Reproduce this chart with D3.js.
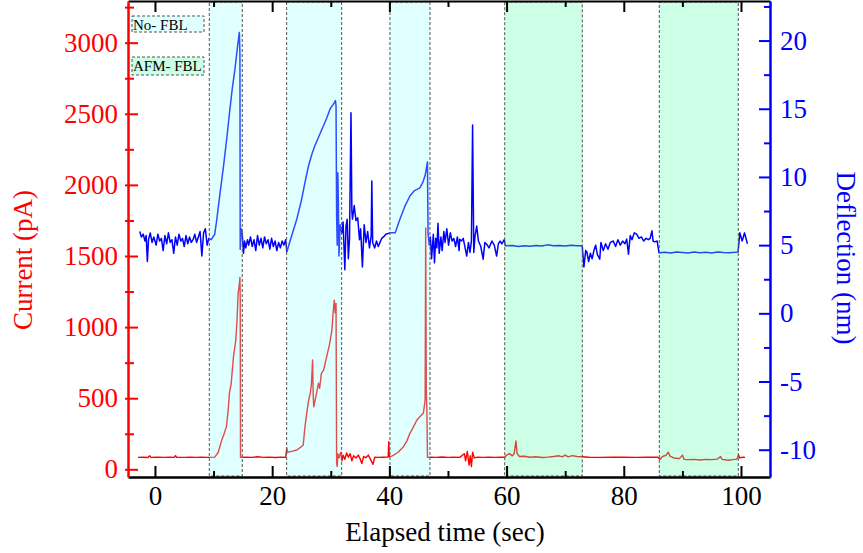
<!DOCTYPE html>
<html>
<head>
<meta charset="utf-8">
<script src="https://cdn.jsdelivr.net/npm/d3@7"></script>
<style>
  html, body { margin: 0; padding: 0; background: #fff; }
  svg { display: block; }
  text { font-family: "Liberation Serif", "DejaVu Serif", serif; }
</style>
</head>
<body>
<svg id="chart" width="863" height="553"></svg>
<script>
// ---------------- DATA ----------------
const xTicks = [0, 20, 40, 60, 80, 100];
const currentTicks = [0, 500, 1000, 1500, 2000, 2500, 3000];
const deflectionTicks = [-10, -5, 0, 5, 10, 15, 20];

// shaded windows [start, end] in seconds
const noFblWindows = [[9.27, 14.9], [22.47, 31.86], [40.1, 46.93]];
const afmFblWindows = [[59.68, 72.92], [86.06, 99.54]];
const legendLabels = ["No- FBL", "AFM- FBL"];

// Current (pA) vs time (s)
const currentTrace = [
[-2.9,84],[-2,85],[-1.2,83],[-0.9,95],[-0.7,84],[0.5,85],[1.5,84],[2.5,86],[3.3,84],[3.5,96],[3.7,85],[5,84],[6,86],[7,84],[8,85],[9,84],[10.2,86],
[10.8,120],[11.4,207],[11.8,250],[12.2,300],[12.5,420],[12.7,534],[13.0,600],[13.4,792],[13.6,850],[13.8,909],[14.0,1050],[14.2,1238],[14.4,1300],[14.5,1350],[14.55,1200],[14.6,84],
[15.5,86],[16.5,84],[17.5,88],[18.5,84],[19.5,86],[20.5,83],[21.5,86],[22.3,84],[22.5,150],[22.6,120],[23.5,128],[24.2,136],[25,160],[25.3,171],[25.6,300],[25.9,394],[26.2,480],[26.5,534],[26.7,600],[26.9,769],[27.0,520],[27.1,440],[27.5,520],[27.9,605],[28.1,570],[28.4,675],[28.8,700],[29.3,792],[29.8,880],[30.2,980],[30.4,1100],[30.6,1190],[30.75,1100],[30.9,1167],[31.0,40],[31.1,20],[31.2,110],[31.4,80],[31.7,120],[31.9,60],[32.1,100],[32.4,70],[32.7,115],[33.0,85],[33.3,110],[33.6,60],[33.9,95],[34.3,80],[34.7,100],[35.0,75],[35.3,40],[35.6,90],[36.0,82],[36.4,100],[36.8,70],[37.2,35],[37.5,85],[38,84],[39,85],[39.8,86],[39.9,194],[40.0,88],[40.5,95],[41.5,120],[42.4,159],[43,200],[43.5,253],[44.0,290],[44.7,347],[45.2,370],[45.8,394],[46.1,487],[46.2,1697],[46.3,560],[46.4,420],[46.5,84],
[47,86],[48,84],[49,87],[50,84],[51,86],[52,84],[52.8,110],[53,60],[53.3,125],[53.6,30],[53.8,95],[54.0,20],[54.2,120],[54.5,80],[55,86],[56,84],[57,85],[58,84],[59,86],[59.7,85],[60.0,100],[60.5,110],[61.0,95],[61.3,110],[61.6,199],[61.8,110],[62.2,90],[63,92],[64,85],[65,88],[66,83],[67,86],[68,90],[69,95],[69.5,88],[70,100],[70.5,88],[71.2,96],[72,90],[72.9,88],[74,85],[76,84],[78,86],[80,85],[82,84],[84,86],[85.8,85],[86.2,70],[86.6,90],[87.2,98],[87.6,120],[87.9,92],[88.5,80],[89.5,75],[90,100],[90.3,70],[91,68],[92,70],[93,66],[94,70],[95,68],[96,72],[96.5,90],[96.8,70],[97.5,66],[98,64],[98.5,68],[99.3,72],[99.6,100],[99.8,80],[100.3,85],[100.7,84]
];

// Deflection (nm) vs time (s)
const deflectionTrace = [
[-2.6,6.0],[-2.3,5.6],[-2.0,5.8],[-1.7,5.3],[-1.5,5.7],[-1.3,3.8],[-1.1,5.4],[-0.8,5.9],[-0.5,5.2],[-0.2,5.6],[0.2,5.0],[0.5,5.8],[0.8,5.3],[1.1,5.5],[1.4,4.6],[1.7,5.7],[2.0,5.1],[2.3,5.9],[2.6,5.2],[2.9,5.4],[3.2,4.4],[3.5,5.6],[3.8,5.0],[4.1,5.8],[4.4,5.3],[4.7,5.5],[5.0,4.9],[5.3,5.7],[5.6,5.1],[5.9,5.6],[6.2,5.2],[6.5,5.4],[6.8,5.8],[7.1,5.2],[7.4,5.6],[7.7,6.0],[8.0,4.2],[8.3,5.9],[8.6,6.2],[8.9,5.0],[9.2,5.5],[9.6,5.4],[10.2,5.8],[10.5,6.7],[11.1,8.8],[11.7,10.8],[12.3,13.0],[12.8,15.0],[13.2,16.5],[13.65,17.9],[14.1,19.6],[14.4,20.6],[14.5,19.0],[14.55,4.7],[14.7,6.2],[14.9,5.8],[15.1,4.4],[15.3,5.3],[15.5,4.8],[15.8,5.4],[16.0,5.0],[16.3,5.6],[16.6,4.9],[16.9,5.4],[17.2,4.6],[17.5,5.7],[17.8,5.0],[18.1,5.5],[18.4,4.8],[18.7,5.6],[19.0,5.1],[19.3,5.4],[19.6,4.7],[19.9,5.5],[20.2,4.9],[20.5,5.3],[20.8,4.6],[21.1,5.2],[21.4,4.8],[21.7,5.3],[22.0,5.0],[22.3,5.4],[22.5,4.5],
[23.2,5.5],[24.2,6.9],[25.0,8.3],[25.6,9.6],[26.2,10.8],[26.8,11.7],[27.3,12.3],[28.0,13.0],[28.7,13.7],[29.3,14.3],[29.9,15.0],[30.4,15.3],[30.8,15.6],[30.9,15.2],[31.0,7.1],[31.1,5.0],[31.2,10.3],[31.3,8.0],[31.4,4.2],[31.6,6.5],[31.9,5.9],[32.1,6.7],[32.4,3.2],[32.6,6.4],[32.8,6.9],[33.0,4.0],[33.2,5.5],[33.45,14.7],[33.6,7.5],[33.7,6.9],[34.0,7.9],[34.3,6.8],[34.6,7.0],[34.9,5.4],[35.1,6.2],[35.4,3.4],[35.7,6.5],[36.0,5.2],[36.3,6.0],[36.6,4.8],[36.9,5.7],[37.0,9.7],[37.15,5.2],[37.5,4.8],[37.8,5.3],[38.1,4.9],[38.4,5.2],[38.7,5.5],[39.0,5.6],[39.4,5.8],[40.1,5.9],
[41.0,5.9],[41.8,6.9],[42.6,7.8],[43.5,8.6],[44.3,9.0],[45.2,9.2],[45.7,9.6],[46.1,10.1],[46.5,11.1],[46.6,5.9],[46.8,5.0],[47.0,5.6],[47.2,4.0],[47.5,5.8],[47.7,3.7],[47.9,5.5],[48.1,4.8],[48.3,6.6],[48.5,4.4],[48.8,5.6],[49.0,4.6],[49.3,6.0],[49.5,5.2],[49.8,6.2],[50.1,5.0],[50.4,5.9],[50.7,5.3],[51.0,5.5],[51.3,4.9],[51.6,5.6],[51.9,4.6],[52.0,5.44],[52.3,5.3],[52.6,5.5],[53.2,4.2],[53.5,5.2],[53.75,4.46],[54.0,5.3],[54.2,13.8],[54.4,4.46],[54.6,5.6],[54.9,6.4],[55.2,5.3],[55.6,4.9],[56.0,3.97],[56.3,5.2],[56.6,5.07],[57.0,4.8],[57.5,5.3],[57.9,5.0],[58.3,4.2],[58.6,5.1],[58.9,5.3],[59.2,5.1],[59.6,5.4],
[59.8,4.95],[61,4.98],[62,4.9],[63,4.96],[64,4.92],[65,4.97],[66,4.93],[67,5.02],[68,4.95],[69,4.97],[70,4.93],[71,4.99],[72,4.95],[72.9,4.96],
[73.2,3.4],[73.5,4.6],[73.7,4.5],[74.0,3.8],[74.3,4.4],[74.6,4.0],[74.9,4.6],[75.2,5.0],[75.5,4.3],[75.9,3.97],[76.1,5.2],[76.5,4.6],[76.9,5.1],[77.3,4.7],[77.7,5.2],[78.2,5.3],[78.6,4.9],[79.0,5.4],[79.4,5.0],[79.8,5.3],[80.2,5.1],[80.5,5.44],[80.8,4.34],[81.1,5.7],[81.4,5.4],[81.8,5.9],[82.2,5.8],[82.6,5.5],[83.0,5.6],[83.4,5.3],[83.8,5.5],[84.2,5.4],[84.5,5.5],[84.8,6.05],[85.0,5.3],[85.3,5.24],[85.7,5.3],[86.0,4.45],
[86.2,4.45],[87,4.48],[88,4.43],[89,4.5],[90,4.46],[91,4.42],[92,4.49],[93,4.45],[94,4.47],[95,4.43],[96,4.5],[97,4.46],[98,4.44],[99,4.47],[99.5,4.5],[99.8,5.9],[100.2,5.3],[100.6,5.9],[101.1,5.1]
];

// ---------------- CHART ----------------
const FONT = "'Liberation Serif', 'DejaVu Serif', serif";
const svg = d3.select("#chart");
const L = 128, R = 770, T = 1, B = 477;

const x = d3.scaleLinear().domain([-4.6, 104.95]).range([L, R]);
const yC = d3.scaleLinear().domain([-54, 3293]).range([B, T]);
const yD = d3.scaleLinear().domain([-12, 22.9]).range([B, T]);

// data lines
const lineC = d3.line().x(d => x(d[0])).y(d => yC(d[1]));
const lineD = d3.line().x(d => x(d[0])).y(d => yD(d[1]));

svg.append("path").datum(currentTrace).attr("d", lineC)
  .attr("fill", "none").attr("stroke", "#ff0000").attr("stroke-width", 1.4).attr("stroke-linejoin", "round");
svg.append("path").datum(deflectionTrace).attr("d", lineD)
  .attr("fill", "none").attr("stroke", "#0000ff").attr("stroke-width", 1.5).attr("stroke-linejoin", "round");

// shaded windows drawn over the data (semi-transparent)
function windows(data, fill) {
  svg.append("g").selectAll("rect").data(data).join("rect")
    .attr("x", d => x(d[0])).attr("y", 2)
    .attr("width", d => x(d[1]) - x(d[0])).attr("height", B - 3)
    .attr("fill", fill).attr("fill-opacity", 0.3)
    .attr("stroke", "#555").attr("stroke-width", 1).attr("stroke-dasharray", "3,2");
}
windows(noFblWindows, "rgb(152,255,255)");
windows(afmFblWindows, "rgb(85,255,168)");

// legend
const legFills = ["rgb(224,255,255)", "rgb(204,255,229)"];
const legY = [16, 57], legH = [16, 18], legBase = [30, 71];
legendLabels.forEach((lab, i) => {
  svg.append("rect").attr("x", 132).attr("y", legY[i]).attr("width", 72).attr("height", legH[i])
    .attr("fill", legFills[i]).attr("stroke", "#555").attr("stroke-dasharray", "3,2");
  svg.append("text").attr("x", 133).attr("y", legBase[i]).attr("font-size", 15)
    .style("font-family", FONT).attr("fill", "#000").text(lab);
});

// ---- axes ----
const fmt = d => String(d);
function styleAxis(g, color, width) {
  g.attr("font-family", null).attr("font-size", null);
  g.select(".domain").attr("stroke", color).attr("stroke-width", width);
  g.selectAll(".tick line").attr("stroke", color).attr("stroke-width", 2);
  g.selectAll(".tick text").attr("fill", color).attr("font-size", 27)
    .style("font-family", FONT);
}

// bottom (time)
const xMinor = d3.range(0, 101, 10).filter(v => v % 20 !== 0);
const gxm = svg.append("g").attr("transform", `translate(0,${B})`)
  .call(d3.axisBottom(x).tickValues(xMinor).tickSize(-6).tickFormat(""));
styleAxis(gxm, "#000", 0);
const gx = svg.append("g").attr("transform", `translate(0,${B})`)
  .call(d3.axisBottom(x).tickValues(xTicks).tickSize(-11).tickPadding(9).tickSizeOuter(0).tickFormat(fmt));
styleAxis(gx, "#000", 2.5);
// top frame
const gtm = svg.append("g").attr("transform", `translate(0,${T})`)
  .call(d3.axisTop(x).tickValues(xMinor).tickSize(-6).tickFormat(""));
styleAxis(gtm, "#000", 0);
const gt = svg.append("g").attr("transform", `translate(0,${T})`)
  .call(d3.axisTop(x).tickValues(xTicks).tickSize(-11).tickFormat("").tickSizeOuter(0));
styleAxis(gt, "#000", 2);

// left (current)
const cMinor = d3.range(250, 3300, 500);
const gcm = svg.append("g").attr("transform", `translate(${L},0)`)
  .call(d3.axisLeft(yC).tickValues(cMinor).tickSize(-6).tickFormat(""));
styleAxis(gcm, "#ff0000", 0);
gcm.selectAll(".tick line").attr("x1", -3);
const gc = svg.append("g").attr("transform", `translate(${L},0)`)
  .call(d3.axisLeft(yC).tickValues(currentTicks).tickSize(-10).tickPadding(10).tickSizeOuter(0).tickFormat(fmt));
styleAxis(gc, "#ff0000", 2.5);
gc.selectAll(".tick line").attr("x1", -3);

// right (deflection)
const dMinor = d3.range(-7.5, 23, 5);
const gdm = svg.append("g").attr("transform", `translate(${R},0)`)
  .call(d3.axisRight(yD).tickValues(dMinor).tickSize(-6).tickFormat(""));
styleAxis(gdm, "#0000ff", 0);
const gd = svg.append("g").attr("transform", `translate(${R},0)`)
  .call(d3.axisRight(yD).tickValues(deflectionTicks).tickSize(-11).tickPadding(10).tickSizeOuter(0).tickFormat(fmt));
styleAxis(gd, "#0000ff", 2.5);

// axis titles
svg.append("text").attr("transform", "translate(32,260) rotate(-90)").style("font-family", FONT)
  .attr("text-anchor", "middle").attr("font-size", 27).attr("fill", "#ff0000").text("Current (pA)");
svg.append("text").attr("transform", "translate(837,258) rotate(90)").style("font-family", FONT)
  .attr("text-anchor", "middle").attr("font-size", 27).attr("fill", "#0000ff").text("Deflection (nm)");
svg.append("text").attr("x", 445).attr("y", 541).style("font-family", FONT)
  .attr("text-anchor", "middle").attr("font-size", 27).attr("fill", "#000").text("Elapsed time (sec)");
</script>
</body>
</html>
